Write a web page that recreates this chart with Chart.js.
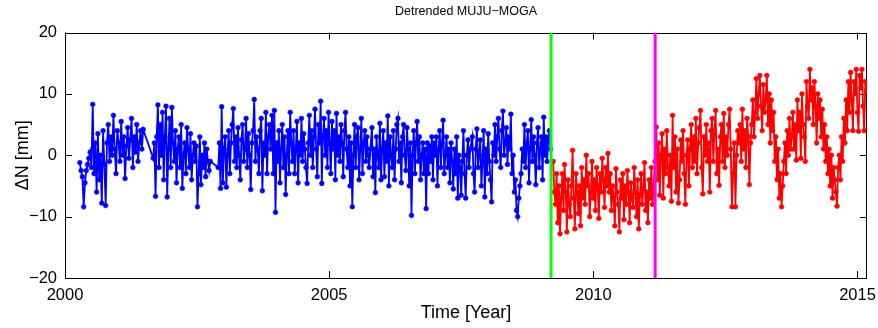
<!DOCTYPE html>
<html>
<head>
<meta charset="utf-8">
<script src="https://cdn.jsdelivr.net/npm/chart.js@4"></script>
<style>
  body { margin: 0; background: #fff; }
  canvas { display: block; }
</style>
</head>
<body>
<canvas id="chartMuju" width="878" height="328"></canvas>
<script>
// time spans (decimal year) of each block of the series, values in mm
var blueSpans = [[2000.28, 2001.48], [2001.67, 2002.75], [2002.90, 2003.89], [2003.92, 2005.78], [2005.81, 2007.67], [2007.71, 2009.19]];
var blueVals1 = [-1.2, -2.5, -3.5, -8.4, -4.5, -2.5, -1.5, -0.5, 0.5, -2, 8.3, -3, 2, -6, 3.5, -4, 0, -7.8, 4, -1.5, -8.2,
  2, 5, -1, 3, 0, 6.5, 1, -3, 4, 2, -1, 5.5, 0, 3, -3.8, 1.5, 4.5, -0.5, 2.5, 6, -2, 3, 0.5, 5, -1, 2, 4, 1, 4.2];
var blueVals2 = [-0.5, 2, -6.7, 3, 8.2, -2, 5, 0, 7, -4, 3, 8, -6.8, 1, 6, -2, 7.8, 2,
  -1, 4, -4.5, 1, 3, -2, 5, -5.4, 0, 2, -3, 4.5, 1, -2, 3.5, -4, 0, 2, -1, 1.5, -8.4, -3, 3, -4.8, 0, -2, 2, -3.5, 1, -1, -2.5, -1];
var blueVals3 = [-2, 2, -5.4, 7.9, -4.5, 1, 3, -5.2, 0, 4, -3, 2, 5, 7.6, -1, 3, -2, 4.5, 0, -4,
  2.5, 5, -1, 1, 6, -2, 3.5, 0, -5.6, 2, 4, 9.1, -1, 3, 1, -3, 4, 6, -5.8, 2, 0, 7, -3, 3, 5, 1];
var blueVals4 = [6.5, -3, 7.3, -9.3, 2, -1, 4, -4.5, 1, 5, -2, 3, -6.4, 0, 4, -3, 7, 2, -1, 4,
  -3, 1, 5.5, -4.5, 2, 0, 6, -1, 3.5, 1, -2, -4.6, 2, 6.5, 0, 4, -2, 3, 7.5, 1,
  -3.5, 5, 2, 8.8, -4.6, 3, 6, 0, 4, -2, 7, 2, -3, 5.5, 1, 4, -4, 6.8, 0, 3,
  -1, 5, 2, -3.5, 4, 7, 1, -2, 3, -5, 2, -8.4, 0, 5, -2, 3, 4.5, -4, 1, 6, -3, 2, 4, -1, 3, 0, -2, 1];
var blueVals5 = [4.5, -3.5, 1, -6.1, 3, 0, -2, 5.2, -4, 1, 4, -3.5, 2, -1, 6.4, -5, 3, 0, -2, 4,
  -4, 1, 5, 6, -1, 2, -4.5, 3, 5, 0, -2.5, 4.5, 1, -5, 2, -9.8, 0, 4, -3, 2,
  5.5, -1, 3, -4, 0, 2, -3, 1, -8.7, 2, -3, 1.5, -1, 3, -4, 2, 0, 3, -5, 1,
  4, -2, 2, 5.7, -3, 0, 3, -2, 1, -4.5, 2, -1, -5.5, 1, -3, 3, -7, 0, -2, -6.5, -1, 4, -3, -7, 0, 2.5, -2, 1];
var blueVals6 = [3, -3, -6, 1, 4.3, -2, 0, 2.5, -5, -1, 4, -6.8, 1, -3, 3.5, -1, -4, -7.6, 2, 0,
  5, -1, 3, 6, 1, -2, 4, 7.2, 0, 2, 4.5, -1.5, 3, 1, 6.7, -3, 0, -6, -4, -9,
  -10, -7, -5, -3, 1, -1, 5, -2, 2, 4, -4.5, 1, 5.8, -1, 3, 0, -4.8, 2, 4.5, -2,
  1, 3, -4, 6.2, 0, 3, -1, 2.5, 4, 1];

var redSpans = [[2009.24, 2011.12], [2011.17, 2013.35], [2013.37, 2015.17]];
var redVals1 = [-1, -6, -8, -3, -11, -5, -12.8, -7, -3, -9, -1.5, -6, -12.5, -4, -8, -10, -5, 0.8, -7, -12,
  -3, -6, -9.5, -5, -11.5, -2, -7, -4, -8, 0, -5, -3, -10, -6, -1, -7, -4, -9, -2, -5,
  -10.3, -3, -6, -0.5, -4, -8.5, -2, -5, 0.3, -6, -3, -9, -5, -7, -11.5, -2.2, -6, -8, -12.5, -4,
  -7, -3, -10.5, -5, -8, -2.5, -6, -11, -4.5, -7, -8.5, -2, -6, -10, -4, -12, -6.5, -3, -8, -5.5,
  -1.2, -9, -6, -11, -4, -7, -2, -8];
var redVals2 = [-1, 4.6, -4, 2, -6.5, 0, 3.5, -7, 1, -3, 4, -2, -5, 0, -7.5, 6.5, -2, 3, -6, 1,
  -7.8, -4, 2.5, -1, 4, -3, -8, 0, 2.5, -5, 1, 5, -2, 3, -1, 6, -3, 2, 4.5, 7.3,
  -2, -6.3, 3, 0, 5, -1, 2, -6, 4, 6, -1, 4, 7.3, -3, 1, -4.9, 3, 5, -1, 6.8,
  -2, 3, 0, 5, 7.5, 1, -8.4, -3, 2, -8.4, 0, 4, 2, 5, -1, 7.5, 1, 4, -2, 6,
  3, -4.8, 2, 5, 9, 3, 7, 12.5, 6, 10, 13, 8, 4, 11.5, 7, 9, 13, 5, 10, 2];
var redVals3 = [9, 4, 7, -1, 3, -4, 1, -7, -3, -8.4, -5, -1, 2, -3, 4, 0, 6, 1, 3, 7,
  1, 5, -0.8, 9, 4, 7, -0.5, 10, 5, 3, -1, 12, 8, 6, 14, 9, 11, 5, 12, 8,
  2, 10, 6, 9, 3, 7.5, 1, 5, -1, 3, -3, 1, -5, 0, -7, -2, -4, -6, -8.3, -2,
  0, -4, 3, -1, 6, 2, 9, 4, 12, 7, 13.5, 9, 4, 12, 10, 14, 7, 3.9, 13, 11, 14, 8, 4, 12, 10.5];

// the two event epochs marked with vertical lines
var eventYears = [2009.20, 2011.17];
var eventColors = ['#00ff00', '#ff00ff'];

var xTicks = [2000, 2005, 2010, 2015];
var yTicks = [-20, -10, 0, 10, 20];

function toPoints(spans, blocks) {
  var pts = [];
  blocks.forEach(function (vals, k) {
    var step = (spans[k][1] - spans[k][0]) / (vals.length - 1);
    vals.forEach(function (v, i) { pts.push({x: spans[k][0] + i * step, y: v}); });
  });
  return pts;
}

var bluePoints = toPoints(blueSpans, [blueVals1, blueVals2, blueVals3, blueVals4, blueVals5, blueVals6]);
var redPoints = toPoints(redSpans, [redVals1, redVals2, redVals3]);

function seriesSet(pts, color) {
  return {
    data: pts, borderColor: color, backgroundColor: color,
    borderWidth: 1.8, pointRadius: 2.4, pointBorderWidth: 0.5, pointBorderColor: color,
    order: 1
  };
}

var datasets = [seriesSet(bluePoints, '#0000ff'), seriesSet(redPoints, '#ff0000')];
eventYears.forEach(function (yr, i) {
  datasets.push({
    data: [{x: yr, y: yTicks[0]}, {x: yr, y: yTicks[yTicks.length - 1]}],
    borderColor: eventColors[i], borderWidth: 3, pointRadius: 0, order: 0
  });
});

// MATLAB style box with inward ticks
var boxTicks = {
  id: 'boxTicks',
  beforeDatasetsDraw: function (chart) {
    var ctx = chart.ctx, a = chart.chartArea, x = chart.scales.x, y = chart.scales.y;
    ctx.save();
    ctx.strokeStyle = '#000';
    ctx.lineWidth = 1;
    ctx.strokeRect(Math.round(a.left) + 0.5, Math.round(a.top) + 0.5, Math.round(a.width) - 1, Math.round(a.height) - 1);
    ctx.beginPath();
    xTicks.forEach(function (t) {
      var px = Math.round(x.getPixelForValue(t)) + 0.5;
      ctx.moveTo(px, a.bottom); ctx.lineTo(px, a.bottom - 7);
      ctx.moveTo(px, a.top); ctx.lineTo(px, a.top + 7);
    });
    yTicks.forEach(function (t) {
      var py = Math.round(y.getPixelForValue(t)) + 0.5;
      ctx.moveTo(a.left, py); ctx.lineTo(a.left + 7, py);
      ctx.moveTo(a.right, py); ctx.lineTo(a.right - 7, py);
    });
    ctx.stroke();
    ctx.restore();
  }
};

Chart.defaults.font.family = "'Liberation Sans', Arial, Helvetica, sans-serif";
Chart.defaults.color = '#000';

var ctxMuju = document.getElementById('chartMuju').getContext('2d');

var configMuju = {
  type: 'line',
  data: { datasets: datasets },
  options: {
    responsive: false,
    animation: false,
    devicePixelRatio: 1,
    layout: { padding: { left: 0, right: 11, top: 0, bottom: 0 } },
    plugins: {
      legend: { display: false },
      tooltip: { enabled: false },
      title: { display: false }
    },
    scales: {
      x: {
        type: 'linear',
        min: 2000,
        max: 2015.18,
        grid: { display: false, drawTicks: false },
        border: { display: false },
        ticks: {
          stepSize: 5, includeBounds: false, padding: 8, maxRotation: 0,
          font: { size: 16.5 },
          callback: function (v) { return String(v); }
        },
        title: { display: true, text: 'Time [Year]', font: { size: 18 }, padding: { top: 0, bottom: 4 } },
        afterFit: function (s) { s.height = 50; s.paddingLeft = 0; s.paddingRight = 0; }
      },
      // top axis only carries the title, centred over the plot box
      x2: {
        type: 'linear',
        position: 'top',
        min: 2000,
        max: 2015.18,
        grid: { display: false, drawTicks: false },
        border: { display: false },
        ticks: { display: false },
        title: { display: true, text: 'Detrended MUJU\u2212MOGA', font: { size: 12.5 }, padding: { top: 4.5, bottom: 0 } },
        afterFit: function (s) { s.height = 32.5; s.paddingLeft = 0; s.paddingRight = 0; }
      },
      y: {
        min: -20,
        max: 20,
        grid: { display: false, drawTicks: false },
        border: { display: false },
        ticks: {
          stepSize: 10, padding: 8,
          font: { size: 16.5 },
          callback: function (v) { return String(v).replace('-', '\u2212'); }
        },
        title: { display: true, text: '\u0394N [mm]', font: { size: 18 }, padding: { top: 12, bottom: 0 } },
        afterFit: function (s) { s.width = 65; }
      }
    }
  },
  plugins: [boxTicks]
};

var chartMuju = new Chart(ctxMuju, configMuju);
</script>
</body>
</html>
